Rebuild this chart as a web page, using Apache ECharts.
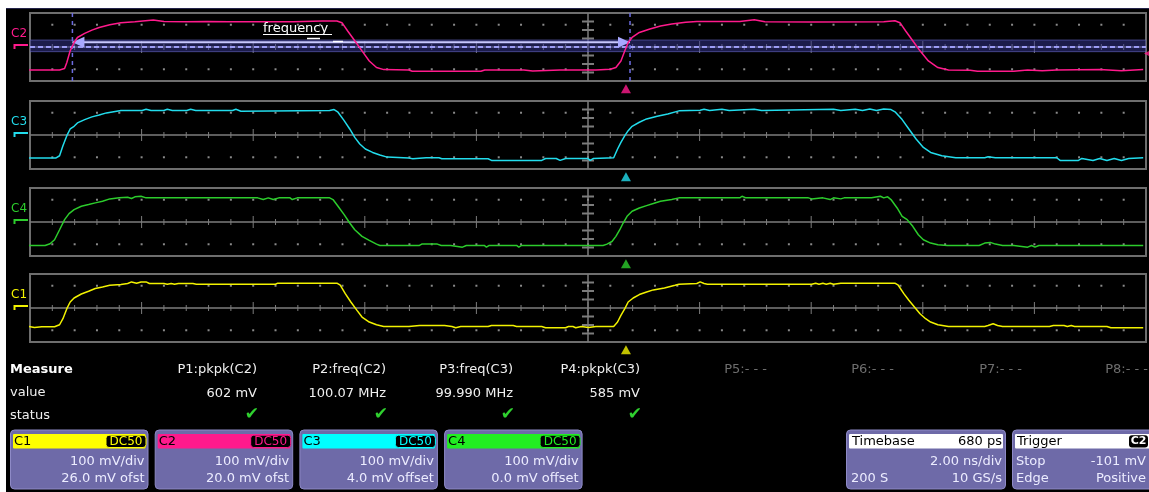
<!DOCTYPE html>
<html><head><meta charset="utf-8">
<script src="https://cdn.jsdelivr.net/npm/echarts@6/dist/echarts.min.js"></script>
<style>
html,body{margin:0;padding:0;background:#fff;overflow:hidden;}
#bg{position:absolute;left:6px;top:8px;width:1143px;height:484px;background:#000;border-top:1px solid #24244a;box-sizing:border-box;}
#c{position:absolute;left:0;top:0;width:1149px;height:492px;}
</style>
</head><body><div id="bg"></div><div id="c"></div>
<script>
// ---- axes / graticule constants (ns, mV) ----
const T_MIN = -10, T_MAX = 10, V_MIN = -400, V_MAX = 400;
const NS_PER_DIV = 2, MINOR_PER_DIV = 5;
const V_TICKS = [-300, -200, -100, 100, 200, 300];
const DOT_ROWS = [-262, 262];
const TRIG_T = 0.68;            // timebase delay 680 ps
const FREQ_T1 = -9.24, FREQ_T2 = 0.753;
const ARROW_LEVEL = 55;
const BAND = [-55, 82];
const TRIG_LEVEL = -76;

// ---- channels, top to bottom ----
const channelNames = ['C2', 'C3', 'C4', 'C1'];
const channelColors = ['#ff1a8c', '#22dcec', '#2ccc2c', '#f2f200'];

// ---- waveform samples [time ns, mV] ----
const c2Data = [[-10.03,-270],[-9.47,-270],[-9.38,-254],[-9.34,-183],[-9.28,-45],[-9.21,53],[-9.15,112],[-9.02,160],[-8.89,199],[-8.76,230],[-8.57,262],[-8.37,286],[-8.12,297],[-7.79,317],[-7.60,301],[-7.21,297],[-6.83,301],[-6.44,297],[-5.92,297],[-5.28,297],[-4.76,305],[-4.50,305],[-4.41,286],[-4.31,191],[-4.18,73],[-4.05,-45],[-3.92,-164],[-3.79,-242],[-3.66,-266],[-3.21,-270],[-3.15,-286],[-2.70,-286],[-1.92,-286],[-1.85,-270],[-1.15,-270],[-0.99,-282],[-0.50,-270],[0.14,-270],[0.40,-262],[0.50,-242],[0.59,-164],[0.66,-45],[0.72,53],[0.79,112],[0.92,171],[1.11,211],[1.30,246],[1.50,270],[1.75,290],[1.95,301],[2.72,301],[2.98,321],[3.17,297],[4.01,294],[5.30,297],[5.50,309],[5.59,286],[5.69,191],[5.82,73],[5.95,-45],[6.10,-164],[6.27,-242],[6.46,-270],[6.85,-274],[6.98,-286],[7.63,-286],[7.88,-270],[8.14,-278],[8.40,-270],[9.17,-266],[9.56,-278],[9.95,-266]];

const c3Data = [[-10.03,-272],[-9.54,-272],[-9.47,-244],[-9.41,-126],[-9.34,-8],[-9.28,71],[-9.21,102],[-9.15,142],[-9.02,181],[-8.89,213],[-8.76,236],[-8.63,260],[-8.37,288],[-7.99,288],[-7.92,303],[-7.83,288],[-7.60,288],[-7.54,303],[-7.45,288],[-7.19,288],[-7.12,303],[-7.03,288],[-6.37,288],[-6.31,303],[-6.22,280],[-4.63,288],[-4.55,299],[-4.48,268],[-4.37,169],[-4.27,71],[-4.18,-28],[-4.09,-106],[-3.99,-165],[-3.86,-205],[-3.73,-236],[-3.60,-260],[-3.21,-272],[-3.14,-280],[-2.90,-268],[-2.67,-268],[-2.62,-280],[-1.79,-280],[-1.73,-299],[-0.83,-299],[-0.76,-276],[-0.57,-276],[-0.50,-299],[-0.40,-276],[0.0,-276],[0.04,-299],[0.10,-276],[0.46,-268],[0.53,-165],[0.59,-87],[0.66,-8],[0.72,51],[0.79,102],[0.92,150],[1.05,189],[1.24,221],[1.43,248],[1.63,284],[2.01,292],[2.08,303],[2.18,288],[2.40,303],[2.53,288],[2.98,303],[3.11,288],[4.40,303],[4.53,288],[4.79,303],[4.92,288],[5.05,307],[5.17,288],[5.30,307],[5.43,299],[5.51,268],[5.63,181],[5.75,71],[5.88,-47],[6.01,-146],[6.14,-205],[6.34,-244],[6.59,-268],[7.11,-268],[7.17,-256],[7.30,-268],[8.40,-268],[8.46,-299],[8.79,-299],[8.85,-276],[9.05,-299],[9.17,-276],[9.30,-299],[9.43,-276],[9.56,-299],[9.69,-276],[9.95,-268]];

const c4Data = [[-10.03,-276],[-9.73,-276],[-9.64,-256],[-9.56,-209],[-9.47,-91],[-9.38,28],[-9.30,99],[-9.21,146],[-9.08,185],[-8.95,205],[-8.83,225],[-8.70,244],[-8.57,272],[-8.40,284],[-8.25,292],[-8.18,276],[-8.12,296],[-8.01,303],[-7.92,284],[-6.05,284],[-6.03,264],[-5.92,284],[-5.82,264],[-5.73,284],[-5.64,264],[-5.54,284],[-5.34,284],[-5.30,264],[-5.21,284],[-4.63,284],[-4.57,264],[-4.48,185],[-4.37,87],[-4.27,-12],[-4.18,-91],[-4.05,-169],[-3.92,-217],[-3.79,-260],[-3.73,-276],[-3.02,-276],[-2.98,-260],[-2.70,-260],[-2.63,-276],[-2.46,-276],[-2.44,-296],[-2.25,-296],[-2.18,-276],[-1.86,-276],[-1.82,-296],[-1.77,-276],[-1.28,-276],[-1.24,-296],[-1.19,-276],[0.27,-276],[0.34,-260],[0.43,-229],[0.50,-169],[0.57,-91],[0.63,-12],[0.70,67],[0.79,126],[0.92,165],[1.05,193],[1.17,217],[1.30,244],[1.50,264],[1.63,284],[2.72,284],[2.76,303],[2.83,284],[3.95,284],[4.01,272],[4.21,284],[4.34,264],[4.40,284],[4.53,272],[4.59,284],[5.08,284],[5.11,303],[5.24,303],[5.30,284],[5.37,296],[5.43,264],[5.54,165],[5.63,67],[5.72,28],[5.82,-51],[5.92,-150],[6.01,-209],[6.14,-248],[6.27,-268],[6.44,-276],[7.01,-276],[7.11,-248],[7.21,-240],[7.30,-260],[7.43,-276],[7.63,-276],[7.65,-296],[7.88,-296],[7.95,-276],[8.01,-296],[8.08,-276],[8.34,-276],[8.37,-296],[8.43,-276],[9.63,-276],[9.66,-296],[9.72,-276],[9.95,-276]];

const c1Data = [[-10.03,-217],[-9.92,-229],[-9.79,-221],[-9.56,-221],[-9.47,-197],[-9.41,-126],[-9.34,-8],[-9.28,71],[-9.21,118],[-9.08,165],[-8.95,197],[-8.83,229],[-8.70,248],[-8.57,268],[-8.37,276],[-8.25,288],[-8.18,307],[-8.09,292],[-8.01,307],[-7.92,307],[-7.86,288],[-7.60,288],[-7.54,280],[-7.47,288],[-7.41,280],[-7.34,288],[-7.08,288],[-7.02,280],[-5.60,280],[-5.56,292],[-4.50,292],[-4.44,268],[-4.35,169],[-4.25,71],[-4.14,-28],[-4.05,-106],[-3.92,-165],[-3.79,-197],[-3.66,-217],[-3.21,-217],[-3.02,-205],[-2.57,-205],[-2.44,-217],[-2.37,-232],[-2.28,-217],[-1.79,-217],[-1.73,-205],[-1.34,-205],[-1.28,-217],[-0.83,-217],[-0.76,-232],[-0.40,-232],[-0.35,-217],[-0.27,-217],[-0.22,-232],[-0.12,-217],[0.01,-229],[0.14,-217],[0.46,-217],[0.53,-165],[0.59,-87],[0.66,-8],[0.72,71],[0.81,118],[0.92,158],[1.05,189],[1.17,213],[1.37,236],[1.56,268],[1.63,280],[1.95,288],[2.01,307],[2.08,288],[2.14,280],[4.01,280],[4.08,292],[4.14,280],[4.21,292],[4.27,280],[4.34,292],[4.40,280],[4.53,292],[5.50,292],[5.56,268],[5.66,169],[5.75,91],[5.85,12],[5.95,-67],[6.05,-126],[6.14,-165],[6.27,-197],[6.46,-217],[7.11,-217],[7.17,-205],[7.26,-185],[7.34,-205],[7.43,-217],[8.27,-217],[8.34,-205],[8.53,-205],[8.59,-217],[8.66,-205],[8.72,-217],[9.30,-217],[9.37,-232],[9.95,-232]];

const traces = [c2Data, c3Data, c4Data, c1Data];

// ---- measurement table ----
const measHeaders = ['P1:pkpk(C2)', 'P2:freq(C2)', 'P3:freq(C3)', 'P4:pkpk(C3)', 'P5:- - -', 'P6:- - -', 'P7:- - -', 'P8:- - -'];
const measValues = ['602 mV', '100.07 MHz', '99.990 MHz', '585 mV', '', '', '', ''];
const measStatus = [true, true, true, true, false, false, false, false];

// ---- channel boxes ----
const boxNames = ['C1', 'C2', 'C3', 'C4'];
const boxColors = ['#ffff00', '#ff1a8c', '#00ffff', '#22ee22'];
const boxCoupling = ['DC50', 'DC50', 'DC50', 'DC50'];
const boxScale = ['100 mV/div', '100 mV/div', '100 mV/div', '100 mV/div'];
const boxOffset = ['26.0 mV ofst', '20.0 mV ofst', '4.0 mV offset', '0.0 mV offset'];
const timebase = {title: 'Timebase', delay: '680 ps', scale: '2.00 ns/div', samples: '200 S', rate: '10 GS/s'};
const trigger = {title: 'Trigger', src: 'C2', mode: 'Stop', level: '-101 mV', type: 'Edge', slope: 'Positive'};

// ---- layout ----
const GRID_LEFT = 30, GRID_W = 1116, GRID_H = 68;
const GRID_TOPS = [13, 101, 188, 274];
const FONT = '"DejaVu Sans", "Liberation Sans", sans-serif';

function graticule(params, api) {
  const ch = [];
  const gs = '#7c7c7c';
  const L = api.coord([T_MIN, 0]), R = api.coord([T_MAX, 0]);
  const T = api.coord([0, V_MAX]), B = api.coord([0, V_MIN]);
  ch.push({type: 'line', shape: {x1: L[0], y1: L[1], x2: R[0], y2: R[1]}, style: {stroke: gs, lineWidth: 1.5}});
  ch.push({type: 'line', shape: {x1: T[0], y1: T[1], x2: B[0], y2: B[1]}, style: {stroke: gs, lineWidth: 1.5}});
  const n = (T_MAX - T_MIN) / NS_PER_DIV * MINOR_PER_DIV;
  for (let k = 1; k < n; k++) {
    const t = T_MIN + k * NS_PER_DIV / MINOR_PER_DIV;
    const p = api.coord([t, 0]);
    const h = (k % MINOR_PER_DIV === 0) ? 6 : 3;
    ch.push({type: 'line', shape: {x1: p[0], y1: p[1] - h, x2: p[0], y2: p[1] + h}, style: {stroke: gs, lineWidth: 1}});
    DOT_ROWS.forEach(v => {
      const q = api.coord([t, v]);
      ch.push({type: 'rect', shape: {x: q[0] - 1, y: q[1] - 1, width: 2, height: 2}, style: {fill: '#8a8a8a'}});
    });
  }
  V_TICKS.forEach(v => {
    const p = api.coord([0, v]);
    ch.push({type: 'line', shape: {x1: p[0] - 6, y1: p[1], x2: p[0] + 6, y2: p[1]}, style: {stroke: gs, lineWidth: 2}});
  });
  return {type: 'group', children: ch};
}

function freqAnno(params, api) {
  const ch = [];
  const a = api.coord([T_MIN, BAND[1]]), b = api.coord([T_MAX, BAND[0]]);
  ch.push({type: 'rect', shape: {x: a[0], y: a[1], width: b[0] - a[0], height: b[1] - a[1]}, style: {fill: 'rgba(55,55,150,0.5)'}});
  ch.push({type: 'line', shape: {x1: a[0], y1: a[1], x2: b[0], y2: a[1]}, style: {stroke: 'rgba(110,110,210,0.55)', lineWidth: 1}});
  ch.push({type: 'line', shape: {x1: a[0], y1: b[1], x2: b[0], y2: b[1]}, style: {stroke: 'rgba(110,110,210,0.55)', lineWidth: 1}});
  const z0 = api.coord([T_MIN, 0]), z1 = api.coord([T_MAX, 0]);
  ch.push({type: 'line', shape: {x1: z0[0], y1: z0[1], x2: z1[0], y2: z1[1]}, style: {stroke: '#9c9cf5', lineWidth: 2, lineDash: [5, 3]}});
  [FREQ_T1, FREQ_T2].forEach(t => {
    const p = api.coord([t, V_MAX]), q = api.coord([t, V_MIN]);
    ch.push({type: 'line', shape: {x1: p[0], y1: p[1], x2: q[0], y2: q[1]}, style: {stroke: '#6c6ce0', lineWidth: 1.5, lineDash: [4, 4]}});
  });
  const p1 = api.coord([FREQ_T1, ARROW_LEVEL]), p2 = api.coord([FREQ_T2, ARROW_LEVEL]);
  ch.push({type: 'line', shape: {x1: p1[0], y1: p1[1], x2: p2[0], y2: p2[1]}, style: {stroke: '#c8c8ff', lineWidth: 2}});
  ch.push({type: 'polygon', shape: {points: [[p1[0], p1[1]], [p1[0] + 12, p1[1] - 5.5], [p1[0] + 12, p1[1] + 5.5]]}, style: {fill: '#a8a8ff'}});
  ch.push({type: 'polygon', shape: {points: [[p2[0], p2[1]], [p2[0] - 12, p2[1] - 5.5], [p2[0] - 12, p2[1] + 5.5]]}, style: {fill: '#a8a8ff'}});
  return {type: 'group', children: ch};
}

const grids = [], xAxes = [], yAxes = [], series = [];
GRID_TOPS.forEach((top, i) => {
  grids.push({left: GRID_LEFT, top: top, width: GRID_W, height: GRID_H, show: true, borderColor: '#6e6e6e', borderWidth: 2, backgroundColor: 'transparent'});
  xAxes.push({gridIndex: i, type: 'value', min: T_MIN, max: T_MAX, show: false});
  yAxes.push({gridIndex: i, type: 'value', min: V_MIN, max: V_MAX, show: false});
  series.push({type: 'custom', xAxisIndex: i, yAxisIndex: i, data: [[0, 0]], renderItem: graticule, silent: true, z: 1});
  if (i === 0) {
    series.push({type: 'custom', xAxisIndex: 0, yAxisIndex: 0, data: [[0, 0]], renderItem: freqAnno, silent: true, z: 2});
    series.push({type: 'scatter', xAxisIndex: 0, yAxisIndex: 0, data: [[T_MAX, TRIG_LEVEL]], symbol: 'triangle', symbolRotate: 90, symbolSize: [6, 6], symbolOffset: [1, 0], itemStyle: {color: channelColors[0]}, clip: false, silent: true, z: 6});
  }
  series.push({type: 'line', name: channelNames[i], xAxisIndex: i, yAxisIndex: i, data: traces[i], showSymbol: false, symbol: 'none',
    lineStyle: {color: channelColors[i], width: 1.5}, itemStyle: {color: channelColors[i]}, clip: true, silent: true, z: 5});
  series.push({type: 'scatter', xAxisIndex: i, yAxisIndex: i, data: [[TRIG_T, -492]], symbol: 'triangle', symbolSize: [10, 9],
    itemStyle: {color: channelColors[i]}, clip: false, silent: true, z: 6});
});

function txt(x, y, s, color, size, align, bold) {
  return {type: 'text', x: x, y: y, z: 10, silent: true,
    style: {text: s, fill: color, font: (bold ? 'bold ' : '') + size + 'px ' + FONT,
      textAlign: align || 'left', textVerticalAlign: 'middle', align: align || 'left', verticalAlign: 'middle'}};
}

const els = [];
// channel labels on left
GRID_TOPS.forEach((top, i) => {
  const c = top + GRID_H / 2;
  els.push(txt(11, c - 13, channelNames[i], channelColors[i], 12));
  els.push({type: 'polyline', z: 10, silent: true, shape: {points: [[14.5, c + 2], [14.5, c - 2], [28, c - 2]]}, style: {stroke: channelColors[i], lineWidth: 2, fill: null}});
});
// frequency label
els.push(txt(263, 28.5, 'frequency', '#ffffff', 13));
els.push({type: 'line', z: 10, silent: true, shape: {x1: 263, y1: 34.5, x2: 332, y2: 34.5}, style: {stroke: '#ffffff', lineWidth: 1.2}});
els.push({type: 'line', z: 10, silent: true, shape: {x1: 307, y1: 38.5, x2: 320, y2: 38.5}, style: {stroke: '#ffffff', lineWidth: 1.5}});
els.push({type: 'line', z: 10, silent: true, shape: {x1: 333, y1: 41.5, x2: 343, y2: 41.5}, style: {stroke: '#ffffff', lineWidth: 1.5}});

// measure table
els.push(txt(10, 370, 'Measure', '#ffffff', 13, 'left', true));
els.push(txt(10, 393, 'value', '#f0f0f0', 13));
els.push(txt(10, 416, 'status', '#f0f0f0', 13));
const colRight = [257, 386, 513, 640, 767, 894, 1022, 1148];
measHeaders.forEach((h, i) => {
  els.push(txt(colRight[i], 370, h, i < 4 ? '#f0f0f0' : '#6e6e6e', 13, 'right'));
  if (measValues[i]) els.push(txt(colRight[i], 394, measValues[i], '#f0f0f0', 13, 'right'));
  if (measStatus[i]) els.push(txt(colRight[i] + 2, 415, '\u2714', '#2fd02f', 17, 'right'));
});

// channel boxes
const BODY = '#6e6aa8', BODY_EDGE = '#8e8ac6', BTXT = '#ececff';
boxNames.forEach((nm, i) => {
  const x0 = 10.5 + i * 144.7;
  els.push({type: 'rect', z: 9, silent: true, shape: {x: x0, y: 430, width: 137.5, height: 59, r: 4}, style: {fill: BODY, stroke: BODY_EDGE, lineWidth: 1}});
  els.push({type: 'rect', z: 9, silent: true, shape: {x: x0 + 2.5, y: 434, width: 132.5, height: 14.5, r: 1}, style: {fill: boxColors[i]}});
  els.push(txt(x0 + 3.5, 441.5, nm, '#000000', 13));
  els.push({type: 'rect', z: 10, silent: true, shape: {x: x0 + 95.5, y: 435.2, width: 40, height: 12.3, r: 3}, style: {fill: '#000000', stroke: boxColors[i], lineWidth: 1}});
  els.push(txt(x0 + 115.5, 441.5, boxCoupling[i], boxColors[i], 12, 'center'));
  els.push(txt(x0 + 134, 462, boxScale[i], BTXT, 13, 'right'));
  els.push(txt(x0 + 134, 478.5, boxOffset[i], BTXT, 13, 'right'));
});
// timebase box
els.push({type: 'rect', z: 9, silent: true, shape: {x: 846.5, y: 430, width: 159, height: 59, r: 4}, style: {fill: BODY, stroke: BODY_EDGE, lineWidth: 1}});
els.push({type: 'rect', z: 9, silent: true, shape: {x: 849, y: 434, width: 154, height: 14.5, r: 1}, style: {fill: '#ffffff'}});
els.push(txt(852, 441.5, timebase.title, '#000000', 13));
els.push(txt(1002, 441.5, timebase.delay, '#000000', 13, 'right'));
els.push(txt(1002, 462, timebase.scale, BTXT, 13, 'right'));
els.push(txt(851, 478.5, timebase.samples, BTXT, 13));
els.push(txt(1002, 478.5, timebase.rate, BTXT, 13, 'right'));
// trigger box
els.push({type: 'rect', z: 9, silent: true, shape: {x: 1012.5, y: 430, width: 146, height: 59, r: 4}, style: {fill: BODY, stroke: BODY_EDGE, lineWidth: 1}});
els.push({type: 'rect', z: 9, silent: true, shape: {x: 1015, y: 434, width: 140, height: 14.5, r: 1}, style: {fill: '#ffffff'}});
els.push(txt(1017, 441.5, trigger.title, '#000000', 13));
els.push({type: 'rect', z: 10, silent: true, shape: {x: 1129, y: 435.2, width: 19, height: 12.3, r: 3}, style: {fill: '#000000'}});
els.push(txt(1138.5, 441.5, trigger.src, '#ffffff', 11, 'center', true));
els.push(txt(1016, 462, trigger.mode, BTXT, 13));
els.push(txt(1146, 462, trigger.level, BTXT, 13, 'right'));
els.push(txt(1016, 478.5, trigger.type, BTXT, 13));
els.push(txt(1146, 478.5, trigger.slope, BTXT, 13, 'right'));

const chart = echarts.init(document.getElementById('c'), null, {renderer: 'canvas'});
chart.setOption({
  animation: false,
  backgroundColor: 'transparent',
  grid: grids,
  xAxis: xAxes,
  yAxis: yAxes,
  series: series,
  graphic: {elements: els}
});
</script>
</body></html>
